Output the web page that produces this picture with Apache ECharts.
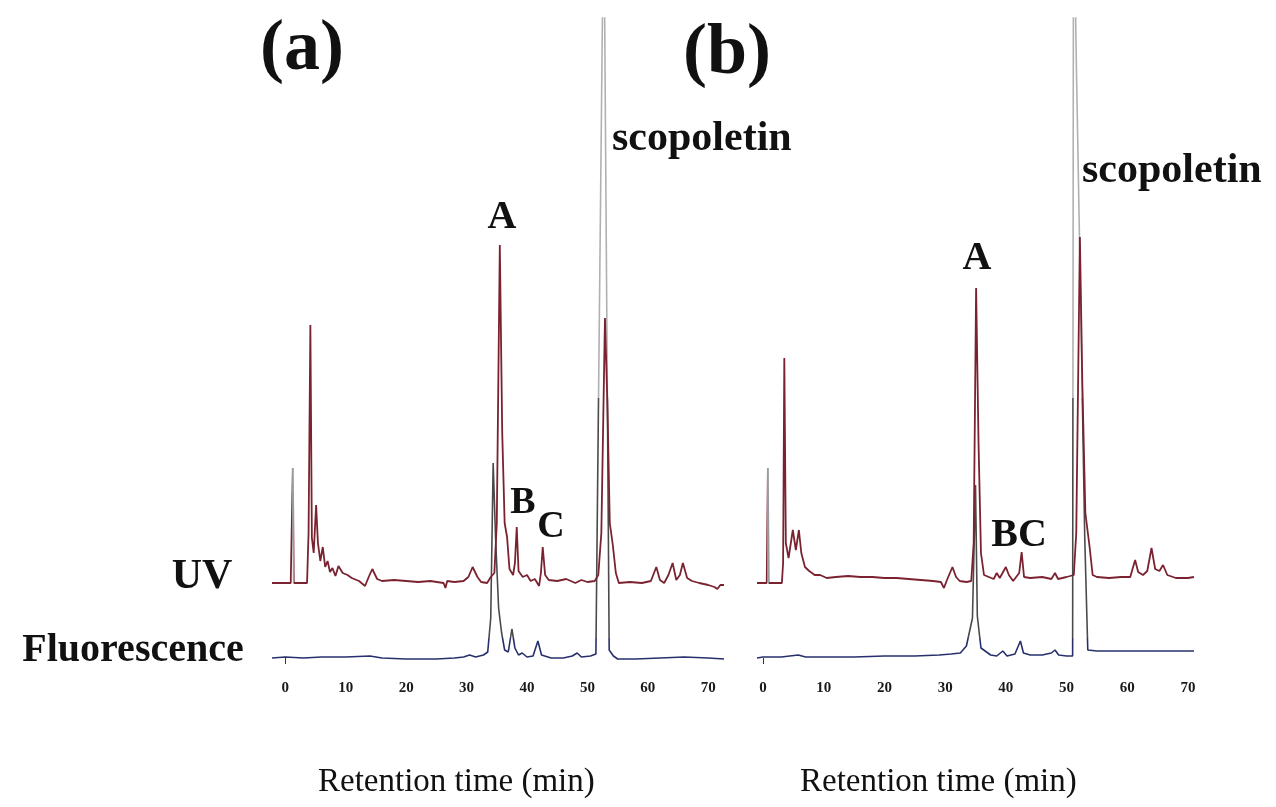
<!DOCTYPE html>
<html>
<head>
<meta charset="utf-8">
<script src="https://cdn.jsdelivr.net/npm/echarts@6/dist/echarts.min.js"></script>
<style>
  html, body { margin: 0; padding: 0; background: #fff; }
  #chart { width: 1276px; height: 807px; }
</style>
</head>
<body>
<div id="chart"></div>
<script>
// retention time (min) vs detector signal
let tickLabels = [0, 10, 20, 30, 40, 50, 60, 70];

// panel (a): UV trace, signal above its own baseline
let uvA = [[-2.2,0],[0.9,0],[1.1,0],[1.25,115],[1.4,0],[3.6,0],[3.85,50],[4.15,258],[4.4,45],[4.7,30],[5.1,78],[5.4,40],[5.8,22],[6.2,36],[6.6,16],[7.0,22],[7.4,11],[7.8,15],[8.3,7],[8.8,17],[9.5,10],[10.3,8],[11,5],[12.2,2],[13.2,-3],[13.8,6],[14.4,14],[15.2,4],[16,2],[18,3],[20,2],[22,1],[24,2],[26.2,0],[26.5,-5],[26.8,2],[28,1],[29.5,2],[30.3,6],[31.0,16],[31.8,6],[32.4,1],[33.4,0],[34.0,6],[34.6,10],[35.0,60],[35.5,338],[35.9,150],[36.3,60],[36.7,46],[37.1,14],[37.7,8],[38.0,20],[38.3,56],[38.6,12],[39.3,6],[40,8],[40.6,2],[41.3,4],[42.0,-3],[42.3,10],[42.6,36],[43.0,8],[43.6,3],[45,2],[46.5,4],[48,0],[49,3],[50,1],[51.2,2],[51.8,8],[52.3,50],[52.9,265],[53.3,180],[53.7,60],[54.2,38],[54.7,10],[55.2,0],[57,1],[59,0],[60.5,2],[61.4,16],[62.0,3],[62.7,0],[63.4,8],[64.1,20],[64.7,3],[65.3,8],[65.8,20],[66.5,5],[67.3,2],[68.5,0],[70,-2],[71,-4],[71.5,-6],[72,-2],[72.6,-2]];
// panel (a): fluorescence trace (scopoletin goes off scale)
let fluA = [[-2.2,0],[0,1],[3,0],[6,1],[10,1],[14,2],[16,0],[20,-1],[25,-1],[28,0],[29.5,1],[30.5,3],[31.5,1],[32.8,3],[33.5,6],[34.0,40],[34.4,195],[34.8,120],[35.3,50],[35.8,25],[36.3,8],[36.9,6],[37.5,29],[38.0,10],[38.6,3],[39.2,5],[40,1],[41.0,2],[41.8,17],[42.4,3],[44,0],[46,0],[47.5,2],[48.3,5],[49,1],[50.5,2],[51.4,4],[52.7,770],[53.6,8],[54.3,2],[55,-1],[58,-1],[62,0],[66,1],[70,0],[72.6,-1]];

// panel (b)
let uvB = [[-1,0],[0.6,0],[0.7,0],[0.8,115],[0.9,0],[3.1,0],[3.3,20],[3.5,225],[3.75,40],[4.2,25],[4.9,53],[5.4,33],[5.9,53],[6.3,30],[6.9,16],[7.6,12],[8.5,8],[9.4,8],[10.5,5],[12,6],[14,7],[16,6],[18,6],[20,5],[22,5],[24,4],[26,3],[28,2],[29.3,1],[29.8,-5],[30.3,3],[31.2,16],[31.8,6],[32.4,2],[33.5,1],[34.3,2],[34.7,40],[35.1,295],[35.5,140],[35.9,30],[36.4,8],[37.2,6],[38,4],[38.5,10],[39,5],[40.0,16],[40.5,8],[41.2,2],[41.7,6],[42.2,10],[42.6,31],[43.0,6],[44,5],[46,6],[47.5,4],[48.1,10],[48.6,4],[50,6],[51.2,8],[51.6,50],[52.2,346],[52.6,200],[53.1,70],[53.8,36],[54.3,8],[55,6],[57,5],[59,6],[60.5,6],[61.3,23],[61.8,11],[62.6,8],[63.3,12],[64.0,35],[64.6,14],[65.3,12],[65.9,18],[66.6,8],[68,5],[70,5],[71,6]];
let fluB = [[-1,0],[0,1],[3,1],[5.8,3],[7,1],[10,1],[15,1],[20,2],[25,2],[29,3],[31,4],[32.5,5],[33.5,12],[34.5,40],[35.0,173],[35.3,42],[35.9,10],[37.5,3],[38.5,2],[39.5,7],[40.2,2],[41.5,4],[42.4,17],[42.9,5],[44,3],[46,3],[47.5,5],[48.1,8],[48.7,3],[50,2],[51.0,2],[51.15,780],[51.6,600],[52.4,330],[53.0,120],[53.5,8],[55,7],[60,7],[65,7],[71,7]];

let uvOffset = 75;   // UV trace is stacked above the fluorescence trace
let serif = '"Liberation Serif","DejaVu Serif",serif';
let uvColor = '#7a2230';

function lift(arr, d){
    return arr.map(p => [p[0], p[1] + d]);
}

function xAxisFor(idx, min, max){
    return {
        gridIndex: idx, type: 'value', min: min, max: max,
        axisLine: { show: false, onZero: true },
        splitLine: { show: false },
        axisTick: { show: true, customValues: [0], length: 6, lineStyle: { color: '#333' } },
        axisLabel: {
            customValues: tickLabels, margin: 13,
            color: '#1a1a1a', fontSize: 15, fontWeight: 'bold', fontFamily: serif
        }
    };
}
function yAxisFor(idx){
    return { gridIndex: idx, type: 'value', min: -10, max: 640, show: false, splitLine: { show: false } };
}
function fluSeries(idx, data){
    return {
        type: 'line', xAxisIndex: idx, yAxisIndex: idx, data: data,
        symbol: 'none', clip: true, z: 2,
        lineStyle: { width: 1.6 }
    };
}
function uvSeries(idx, data){
    return {
        type: 'line', xAxisIndex: idx, yAxisIndex: idx, data: lift(data, uvOffset),
        symbol: 'none', clip: true, z: 3,
        lineStyle: { width: 1.8 }
    };
}
function txt(s, x, y, size, weight, align){
    return {
        type: 'text', x: x, y: y, z: 10,
        style: {
            text: s, fill: '#111', font: (weight || 'bold') + ' ' + size + 'px ' + serif,
            align: align || 'center', verticalAlign: 'middle',
            textAlign: align || 'center', textVerticalAlign: 'middle'
        }
    };
}

let fluPieces = [
    { lt: 20, color: '#27306a' },
    { gte: 20, lt: 260, color: '#4a4a4a' },
    { gte: 260, color: '#b0b0b0' }
];
// injection spike drawn in grey like the original
function uvPieces(a, b){
    return [
        { lt: a, color: uvColor },
        { gte: a, lte: b, color: '#9a9a9a' },
        { gt: b, color: uvColor }
    ];
}

let chart = echarts.init(document.getElementById('chart'));
chart.setOption({
    backgroundColor: '#fff',
    animation: false,
    grid: [
        { left: 272, width: 452, top: 18, height: 650 },
        { left: 757, width: 437, top: 18, height: 650 }
    ],
    xAxis: [xAxisFor(0, -2.2, 72.6), xAxisFor(1, -1, 71)],
    yAxis: [yAxisFor(0), yAxisFor(1)],
    visualMap: [
        { show: false, type: 'piecewise', seriesIndex: 0, dimension: 1, pieces: fluPieces },
        { show: false, type: 'piecewise', seriesIndex: 2, dimension: 1, pieces: fluPieces },
        { show: false, type: 'piecewise', seriesIndex: 1, dimension: 0, pieces: uvPieces(1.1, 1.4) },
        { show: false, type: 'piecewise', seriesIndex: 3, dimension: 0, pieces: uvPieces(0.7, 0.9) }
    ],
    series: [
        fluSeries(0, fluA), uvSeries(0, uvA),
        fluSeries(1, fluB), uvSeries(1, uvB)
    ],
    graphic: [
        txt('(a)', 302, 50, 72),
        txt('(b)', 727, 54, 72),
        txt('scopoletin', 612, 139, 42, 'bold', 'left'),
        txt('scopoletin', 1082, 171, 42, 'bold', 'left'),
        txt('A', 502, 218, 40),
        txt('B', 523, 503, 38),
        txt('C', 551, 527, 38),
        txt('A', 977, 259, 40),
        txt('BC', 1019, 536, 40),
        txt('UV', 202, 577, 42),
        txt('Fluorescence', 133, 651, 40),
        txt('Retention time (min)', 318, 782, 33, 'normal', 'left'),
        txt('Retention time (min)', 800, 782, 33, 'normal', 'left')
    ]
});
</script>
</body>
</html>
